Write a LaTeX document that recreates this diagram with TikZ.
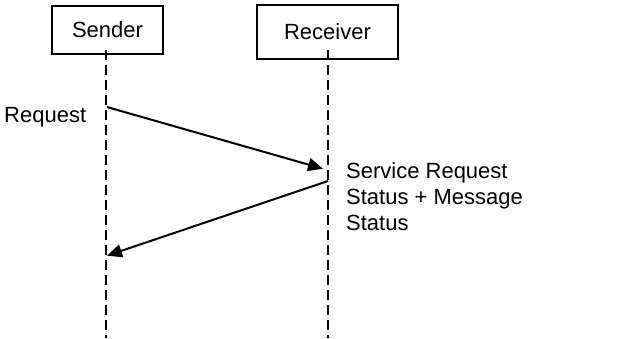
\documentclass[tikz,border=0pt]{standalone}
\usepackage{fontspec}
\setmainfont{Liberation Sans}
\usetikzlibrary{arrows.meta}
\begin{document}
\begin{tikzpicture}[x=1pt,y=-1pt,
  actor/.style={draw,line width=1.4pt,inner sep=0pt,font=\fontsize{22}{26}\selectfont},
  lifeline/.style={line width=1.8pt,dash pattern=on 10pt off 5pt},
  msg/.style={line width=2pt,-{Triangle[length=15pt,width=13pt]},shorten >=1pt},
  lbl/.style={anchor=base west,inner sep=0pt,font=\fontsize{22}{26}\selectfont}]
\useasboundingbox (0,0) rectangle (628,338);
\node[actor,minimum width=111pt,minimum height=48pt] (snd) at (107.5,30) {Sender};
\node[actor,minimum width=141pt,minimum height=54pt] (rcv) at (327.5,32) {Receiver};
\coordinate (s0) at (106,50);
\coordinate (s1) at (106,338);
\coordinate (r0) at (328,50);
\coordinate (r1) at (328,338);
\draw[lifeline] (s0) -- (s1);
\draw[lifeline] (r0) -- (r1);
\coordinate (a1) at (107,107);
\coordinate (b1) at (324,169);
\coordinate (a2) at (328,181);
\coordinate (b2) at (106,256);
\draw[msg] (a1) -- (b1);
\draw[msg] (a2) -- (b2);
\node[lbl] (req) at (4,122.5) {Request};
\node[lbl] (sr) at (346,178) {Service Request};
\node[lbl] (sm) at (346,204) {Status + Message};
\node[lbl] (st) at (346,230) {Status};
\end{tikzpicture}
\end{document}
